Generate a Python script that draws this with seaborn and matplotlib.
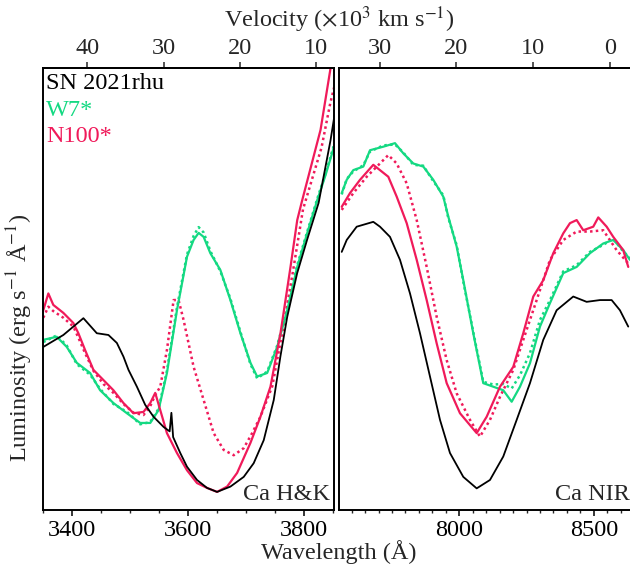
import numpy as np
import pandas as pd
import matplotlib
matplotlib.use("Agg")
import matplotlib.pyplot as plt
from matplotlib.ticker import MultipleLocator, FixedLocator, NullLocator
import seaborn as sns

# ---------------- data (arbitrary luminosity units) ----------------
# Ca H&K panel
hk_obs_wave = [3350, 3384.6, 3419.2, 3442.3, 3462.4, 3476.9, 3488.3, 3497, 3511.5, 3525.8, 3540.2,
               3557.5, 3568, 3571, 3574, 3586.3, 3597.9, 3615.2, 3632.5, 3649.8, 3672.8, 3695.8,
               3713, 3730.3, 3747.6, 3759, 3770.8, 3788, 3805, 3825, 3845.6, 3852.5]
hk_obs_lum = [36.9, 39.6, 43.4, 40.0, 39.6, 37.8, 34.7, 31.7, 27.9, 23.8, 21.1,
              18.8, 17.8, 22.0, 16.5, 12.9, 9.8, 6.8, 5.0, 4.1, 5.3, 7.5,
              10.6, 15.8, 24.9, 34.7, 43.7, 53.6, 61.1, 69.5, 83.7, 89.4]

hk_w7_wave = [3350, 3373.2, 3390.5, 3407.8, 3430.8, 3448, 3471, 3494.2, 3517.2, 3534.5, 3548.8,
              3563.3, 3580.6, 3597.9, 3609.3, 3618, 3626.6, 3638.2, 3655.5, 3672.8, 3690.1,
              3707.4, 3718.9, 3736.2, 3753.5, 3770.8, 3788.1, 3805.4, 3822.6, 3837, 3852.5]
hk_w7_lum = [38.5, 39.2, 36.9, 33.3, 31.0, 27.1, 24.2, 21.9, 19.7, 19.7, 22.6,
             31.0, 45.2, 57.3, 61.1, 62.7, 61.8, 58.1, 54.3, 47.5, 40.0,
             33.3, 30.2, 31.0, 36.9, 45.2, 55.0, 62.7, 70.1, 75.8, 82.6]
hk_w7d_lum = [38.0, 39.5, 37.2, 33.0, 30.6, 27.4, 24.0, 22.2, 19.4, 19.9, 22.9,
              31.5, 45.8, 57.8, 62.0, 64.0, 62.8, 58.6, 54.0, 47.8, 40.3,
              33.0, 29.8, 31.3, 37.2, 45.6, 55.4, 63.0, 70.4, 76.2, 83.0]

hk_n100_wave = [3350, 3358.7, 3367.3, 3384.6, 3401.9, 3410.5, 3422.1, 3436.5, 3453.8, 3471, 3488.3,
                3505.6, 3522.9, 3534.5, 3543.1, 3551.8, 3563.3, 3580.6, 3597.9, 3615.2, 3632.5,
                3649.8, 3667.1, 3684.4, 3707.4, 3724.6, 3741.9, 3759.2, 3776.5, 3788.1, 3796.7,
                3828.3, 3845.6, 3852.5]
hk_n100_lum = [45.2, 49.0, 46.4, 44.6, 42.3, 40.0, 36.2, 31.7, 29.4, 27.1, 24.2,
               21.9, 22.2, 24.2, 26.5, 22.6, 17.4, 12.9, 9.0, 6.1, 5.0,
               4.1, 5.3, 8.4, 15.2, 21.1, 27.9, 40.0, 55.0, 65.6, 70.1,
               86.0, 100.0, 104.0]

hk_n100d_wave = [3350, 3358.7, 3367.3, 3384.6, 3401.9, 3410.5, 3422.1, 3436.5, 3453.8, 3471, 3488.3,
                 3505.6, 3522.9, 3534.5, 3543.1, 3551.8, 3563.3, 3574.8, 3583.4, 3592, 3609.3,
                 3626.6, 3643.9, 3661.2, 3678.5, 3695.8, 3710.3, 3724.6, 3745, 3765, 3782,
                 3798, 3830, 3845, 3852.5]
hk_n100d_lum = [43.5, 46.0, 45.0, 43.5, 41.5, 39.0, 35.5, 31.5, 28.5, 26.5, 24.0,
                22.0, 21.5, 23.5, 26.0, 27.9, 36.2, 47.5, 47.5, 43.0, 32.4,
                24.9, 17.4, 13.6, 12.4, 14.0, 17.4, 21.1, 28.0, 42.0, 55.0,
                68.0, 82.0, 92.0, 96.0]

# Ca NIR panel
nir_obs_wave = [7562.9, 7581.5, 7618.6, 7680.3, 7705.2, 7742.4, 7779.6, 7816.8, 7853.9, 7891.1,
                7928.3, 7965.4, 8014.9, 8064.7, 8114.1, 8163.5, 8213.4, 8262.8, 8312.2, 8362,
                8423.7, 8473.5, 8523, 8566.5, 8597.3, 8628.2]
nir_obs_lum = [58.4, 61.1, 64.1, 65.2, 64.1, 61.8, 56.6, 49.0, 40.0, 30.2,
               20.4, 12.9, 7.5, 4.9, 6.8, 12.1, 20.4, 28.7, 38.5, 45.2,
               48.3, 47.1, 47.5, 47.5, 45.2, 41.5]

nir_w7_wave = [7562.9, 7581.5, 7606, 7643.2, 7668.1, 7717.5, 7761, 7791.8, 7829, 7866.2,
               7903.4, 7940.5, 7959.1, 7990.3, 8014.9, 8052, 8089.2, 8126.4, 8163.5, 8194.8,
               8225.6, 8262.8, 8300, 8337.1, 8386.6, 8436.4, 8485.8, 8535.2, 8572.4, 8609.6, 8634.5]
nir_w7_lum = [71.7, 74.7, 76.9, 77.7, 81.4, 82.2, 83.0, 80.7, 78.4, 77.7,
              74.7, 70.9, 66.4, 59.6, 52.0, 40.0, 28.7, 27.9, 27.1, 24.5,
              27.9, 33.2, 41.5, 46.8, 53.6, 55.0, 58.1, 60.3, 61.1, 58.8, 56.6]
nir_w7d_lum = [71.4, 74.9, 76.6, 78.0, 81.1, 82.5, 82.7, 80.9, 78.1, 77.9,
               74.4, 71.2, 66.1, 59.9, 51.7, 40.3, 29.0, 28.4, 28.5, 27.5,
               30.5, 35.5, 43.0, 47.5, 54.0, 55.4, 58.4, 60.0, 61.4, 58.5, 56.9]

nir_n100_wave = [7562.9, 7593.7, 7630.9, 7680.3, 7736.1, 7767.3, 7804.5, 7841.7, 7878.8, 7916,
                 7953.2, 8002.6, 8064.7, 8101.8, 8151.3, 8200.7, 8237.9, 8275.1, 8312.2, 8349.4,
                 8386.6, 8411.5, 8436.4, 8460.9, 8498.1, 8516.7, 8547.9, 8572.4, 8609.6, 8628.2]
nir_n100_lum = [68.6, 71.7, 74.7, 78.1, 75.4, 70.9, 64.9, 56.6, 47.5, 37.7,
                28.7, 21.9, 17.4, 21.1, 27.9, 32.4, 40.0, 48.3, 52.0, 58.1,
                62.6, 64.9, 65.6, 63.3, 64.1, 66.2, 64.1, 61.8, 58.8, 55.0]

nir_n100d_wave = [7562.9, 7606, 7655.8, 7736.1, 7767.3, 7804.5, 7841.7, 7878.8, 7916, 7953.2,
                  7990.3, 8039.8, 8076.9, 8114.1, 8151.3, 8200.7, 8237.9, 8287.7, 8337.1, 8386.6,
                  8436.4, 8485.8, 8535.2, 8585, 8628.2]
nir_n100d_lum = [67.9, 71.7, 75.4, 80.3, 78.4, 73.9, 65.6, 55.0, 43.7, 33.9,
                 26.4, 20.4, 16.6, 20.4, 25.6, 31.7, 38.5, 47.5, 56.6, 61.1,
                 63.0, 63.0, 63.3, 58.8, 55.8]

labels = ["SN 2021rhu", "W7*", "N100*"]
panel_names = ["Ca H&K", "Ca NIR"]
hk_vel_ticks = [40, 30, 20, 10]
nir_vel_ticks = [30, 20, 10, 0]
hk_rest = 3953.0
nir_rest = 8560.0
C_KMS = 299.792  # 10^3 km/s

BLACK = "#000000"
GREEN = "#14d982"
RED = "#f01a5a"

# ---------------- style ----------------
sns.set_theme(style="ticks")
plt.rcParams["font.family"] = ["Liberation Serif", "DejaVu Serif"]
plt.rcParams["mathtext.fontset"] = "stix"
plt.rcParams["axes.linewidth"] = 1.4
FS = 17.5

fig = plt.figure(figsize=(6.30, 5.73), dpi=100)
axL = fig.add_axes([0.0678, 0.1099, 0.5306 - 0.0678, 0.8813 - 0.1099])
axR = fig.add_axes([0.5386, 0.1099, 1.0108 - 0.5386, 0.8813 - 0.1099])


def draw(ax, x, y, color, ls, lw):
    df = pd.DataFrame({"wave": x, "lum": y})
    sns.lineplot(data=df, x="wave", y="lum", color=color, linestyle=ls, linewidth=lw,
                 ax=ax, sort=False, estimator=None, legend=False)


# left panel
draw(axL, hk_w7_wave, hk_w7d_lum, GREEN, (0, (1, 1.3)), 1.8)
draw(axL, hk_n100d_wave, hk_n100d_lum, RED, (0, (1, 1.3)), 1.8)
draw(axL, hk_w7_wave, hk_w7_lum, GREEN, "-", 1.6)
draw(axL, hk_n100_wave, hk_n100_lum, RED, "-", 1.6)
draw(axL, hk_obs_wave, hk_obs_lum, BLACK, "-", 1.3)

# right panel
draw(axR, nir_w7_wave, nir_w7d_lum, GREEN, (0, (1, 1.3)), 1.8)
draw(axR, nir_n100d_wave, nir_n100d_lum, RED, (0, (1, 1.3)), 1.8)
draw(axR, nir_w7_wave, nir_w7_lum, GREEN, "-", 1.6)
draw(axR, nir_n100_wave, nir_n100_lum, RED, "-", 1.6)
draw(axR, nir_obs_wave, nir_obs_lum, BLACK, "-", 1.3)

axL.set_xlim(3349, 3852)
axR.set_xlim(7554, 8660)
for ax in (axL, axR):
    ax.set_ylim(0, 100)
    ax.set_xlabel("")
    ax.set_ylabel("")
    ax.yaxis.set_major_locator(NullLocator())
    ax.yaxis.set_minor_locator(NullLocator())
    ax.tick_params(axis="x", which="major", direction="out", length=4, width=1.1,
                   labelsize=FS, pad=3, colors="black")
    ax.tick_params(axis="x", which="minor", direction="out", length=2.2, width=1.0)
    for s in ax.spines.values():
        s.set_visible(True)
        s.set_color("black")
        s.set_linewidth(1.4)
    ax.xaxis.set_minor_locator(MultipleLocator(50))

axL.xaxis.set_major_locator(MultipleLocator(200))
axR.xaxis.set_major_locator(MultipleLocator(500))


def add_top(ax, rest, ticks):
    fwd = lambda w: (1.0 - np.asarray(w) / rest) * C_KMS
    inv = lambda v: rest * (1.0 - np.asarray(v) / C_KMS)
    sec = ax.secondary_xaxis("top", functions=(fwd, inv))
    sec.xaxis.set_major_locator(FixedLocator(ticks))
    sec.xaxis.set_minor_locator(NullLocator())
    sec.tick_params(axis="x", direction="out", length=4.5, width=1.1, labelsize=FS, pad=2)
    sec.spines["top"].set_linewidth(1.4)
    return sec


add_top(axL, hk_rest, hk_vel_ticks)
add_top(axR, nir_rest, nir_vel_ticks)

# legend-like labels
axL.text(0.012, 0.988, labels[0], transform=axL.transAxes, color=BLACK, fontsize=FS,
         ha="left", va="top")
axL.text(0.012, 0.928, labels[1], transform=axL.transAxes, color=GREEN, fontsize=FS,
         ha="left", va="top")
axL.text(0.012, 0.868, labels[2], transform=axL.transAxes, color=RED, fontsize=FS,
         ha="left", va="top")

axL.text(0.985, 0.012, panel_names[0], transform=axL.transAxes, fontsize=FS,
         ha="right", va="bottom")
axR.text(0.975, 0.012, panel_names[1], transform=axR.transAxes, fontsize=FS,
         ha="right", va="bottom")

fig.text(0.538, 0.966, r"Velocity ($\times$10$^{3}$ km s$^{-1}$)", fontsize=FS,
         ha="center", va="center")
fig.text(0.538, 0.036, "Wavelength (Å)", fontsize=FS, ha="center", va="center")
fig.text(0.032, 0.41, r"Luminosity (erg s$^{-1}$ Å$^{-1}$)", fontsize=FS,
         ha="center", va="center", rotation=90)

fig.savefig("out.png", dpi=100)
